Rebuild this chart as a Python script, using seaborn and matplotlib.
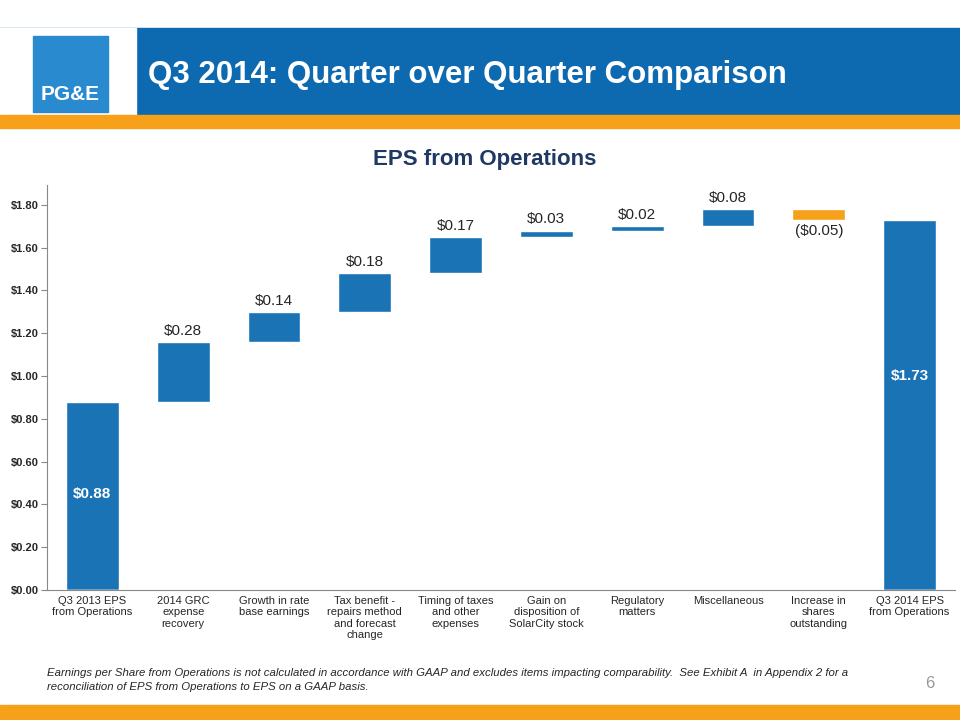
import matplotlib.pyplot as plt
import seaborn as sns
import matplotlib.patches as patches

categories = ["Q3 2013 EPS\nfrom Operations", "2014 GRC\nexpense\nrecovery", "Growth in rate\nbase earnings",
              "Tax benefit -\nrepairs method\nand forecast\nchange", "Timing of taxes\nand other\nexpenses",
              "Gain on\ndisposition of\nSolarCity stock", "Regulatory\nmatters", "Miscellaneous",
              "Increase in\nshares\noutstanding", "Q3 2014 EPS\nfrom Operations"]
bar_tops = [0.88, 1.16, 1.30, 1.48, 1.65, 1.68, 1.70, 1.78, 1.78, 1.73]
bar_bottoms = [0.0, 0.88, 1.16, 1.30, 1.48, 1.65, 1.68, 1.70, 1.73, 0.0]
value_labels = ["$0.88", "$0.28", "$0.14", "$0.18", "$0.17", "$0.03", "$0.02", "$0.08", "($0.05)", "$1.73"]
yticks = [0, 0.2, 0.4, 0.6, 0.8, 1.0, 1.2, 1.4, 1.6, 1.8]

blue = "#1a73b5"
orange = "#f7a11a"
colors = [blue] * 8 + [orange, blue]

sns.set_style("white")
plt.rcParams["font.family"] = ["Liberation Sans", "DejaVu Sans"]

fig = plt.figure(figsize=(9.6, 7.2), dpi=100)

# header
fig.patches.append(patches.Rectangle((0, 605 / 720), 1, 87 / 720, transform=fig.transFigure, color="#0e6ab0"))
fig.patches.append(patches.Rectangle((0, 605 / 720), 136 / 960, 87 / 720, transform=fig.transFigure, color="white"))
fig.patches.append(patches.Rectangle((0, 592 / 720), 1, 13 / 720, transform=fig.transFigure, color=orange))
fig.patches.append(patches.Rectangle((0, 0), 1, 15 / 720, transform=fig.transFigure, color=orange))
fig.patches.append(patches.Rectangle((33 / 960, 608 / 720), 75 / 960, 76 / 720, transform=fig.transFigure, color="#2a8ad0"))
fig.text(70 / 960, 620 / 720, "PG&E", color="white", fontsize=15, fontweight="bold", ha="center")
fig.text(148 / 960, 645 / 720, "Q3 2014: Quarter over Quarter Comparison", color="white",
         fontsize=22.5, fontweight="bold", va="center")
fig.text(485 / 960, 560 / 720, "EPS from Operations", color="#1f3864", fontsize=16,
         fontweight="bold", ha="center", va="center")

ax = fig.add_axes([47 / 960, 130 / 720, 908 / 960, 405 / 720])
x = list(range(len(categories)))
sns.barplot(x=x, y=bar_tops, hue=x, palette=colors, legend=False, width=0.58, ax=ax, saturation=1)
sns.barplot(x=x, y=bar_bottoms, color="white", width=0.6, ax=ax, saturation=1)
ax.set_ylim(0, 1.893)
ax.set_xlim(-0.5, 9.5)
ax.set_yticks(yticks)
ax.set_yticklabels([f"${v:.2f}" for v in yticks], fontsize=8, fontweight="bold")
ax.set_xticks(x)
ax.set_xticklabels(categories, fontsize=8, va="top")
ax.tick_params(axis="x", length=0, pad=4)
ax.tick_params(axis="y", length=4, left=True, color="#888888", pad=2)
for s in ["top", "right"]:
    ax.spines[s].set_visible(False)
for s in ["left", "bottom"]:
    ax.spines[s].set_color("#888888")

for i, lab in enumerate(value_labels):
    if i == 0 or i == len(value_labels) - 1:
        y = 0.45 if i == 0 else 1.0
        ax.text(i, y, lab, color="white", fontsize=11, fontweight="bold", ha="center", va="center")
    elif i == 8:
        ax.text(i, bar_bottoms[i] - 0.02, lab, fontsize=11, ha="center", va="top")
    else:
        ax.text(i, bar_tops[i] + 0.02, lab, fontsize=11, ha="center", va="bottom")

fig.text(47 / 960, 52 / 720,
         "Earnings per Share from Operations is not calculated in accordance with GAAP and excludes items impacting comparability.  See Exhibit A  in Appendix 2 for a\nreconciliation of EPS from Operations to EPS on a GAAP basis.",
         fontsize=8.2, style="italic", va="top", linespacing=1.5)
fig.text(930 / 960, 32 / 720, "6", fontsize=12, color="#999999", ha="center")

fig.savefig("out.png", dpi=100)
